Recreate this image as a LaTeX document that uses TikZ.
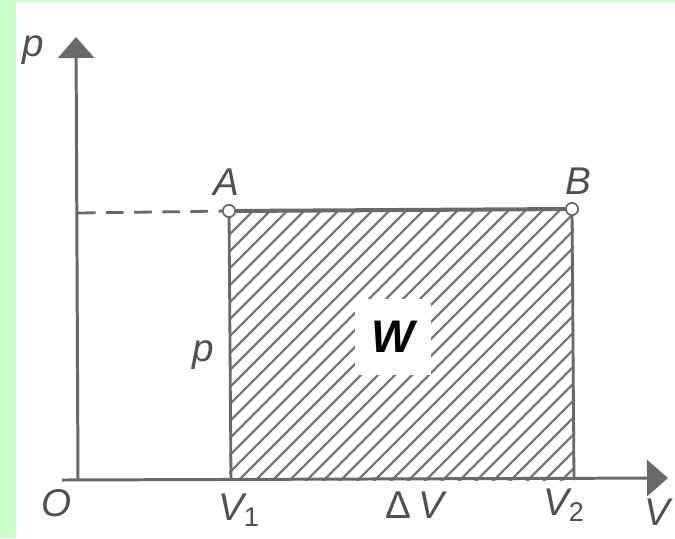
\documentclass[tikz,border=0pt]{standalone}
\usepackage{fontspec}
\setmainfont{Liberation Sans}
\usetikzlibrary{arrows.meta,positioning}
\definecolor{mintgreen}{RGB}{200,255,200}
\definecolor{inkgray}{RGB}{105,105,105}
\definecolor{textgray}{RGB}{80,80,80}

\tikzset{
  axis/.style={line width=1.7pt, inkgray, -{Triangle[length=0.42cm, width=0.72cm]}},
  side/.style={line width=1.6pt, inkgray},
  hatch/.style={line width=1.3pt, inkgray!90},
  pt/.style={circle, draw=inkgray, fill=white, line width=1pt, inner sep=0pt, minimum size=7pt},
  lbl/.style={text=textgray, font=\fontsize{22}{24}\selectfont\itshape}
}

\begin{document}
\begin{tikzpicture}[x=0.02cm, y=-0.02cm]
\useasboundingbox (0,0) rectangle (675,538);
% Border
\fill[mintgreen] (0,0) rectangle (16,538);
\fill[mintgreen] (0,0) rectangle (675,2);

% Points
\coordinate (O) at (78,480);
\coordinate (ptip) at (76,37);
\coordinate (vtip) at (668,478);
\coordinate (V1) at (231,480);
\coordinate (V2) at (574,480);
\coordinate (pA) at (78,213);

% Hatched area
\begin{scope}
\clip (229,211) rectangle (574,480);
\foreach \hx in {-52,-35,...,580}
  \draw[hatch] (\hx,482) -- (\hx+280,202);
\end{scope}

% Corners
\node[pt] (A) at (229,211) {};
\node[pt] (B) at (572,209) {};

% Rectangle
\draw[side] (A) -- (V1);
\draw[side] (B) -- (V2);
\draw[line width=2.3pt, inkgray] (A) -- (B);
\draw[side, dashed, dash pattern=on 10pt off 6pt] (pA) -- (A);

% Axes
\draw[axis] (O) -- (ptip);
\draw[axis] (62,480) -- (vtip);

% Work
\node[fill=white, minimum size=1.52cm, font=\fontsize{26}{28}\selectfont\bfseries\itshape] (W) at (393,337) {W};

% Labels
\node[lbl] (Plbl) at (33,50) {p};
\node[lbl] (Albl) at (226,182) {A};
\node[lbl] (Blbl) at (578,181) {B};
\node[lbl] (plbl) at (203,355) {p};
\node[lbl] (Olbl) at (57,503) {O};
\node[lbl] (V1lbl) at (239,510) {V\textsubscript{\upshape 1}};
\node[lbl] (dVlbl) at (415,505) {\upshape Δ\itshape\,V};
\node[lbl] (V2lbl) at (564,505) {V\textsubscript{\upshape 2}};
\node[lbl] (Vlbl) at (657,512) {V};
\end{tikzpicture}
\end{document}
